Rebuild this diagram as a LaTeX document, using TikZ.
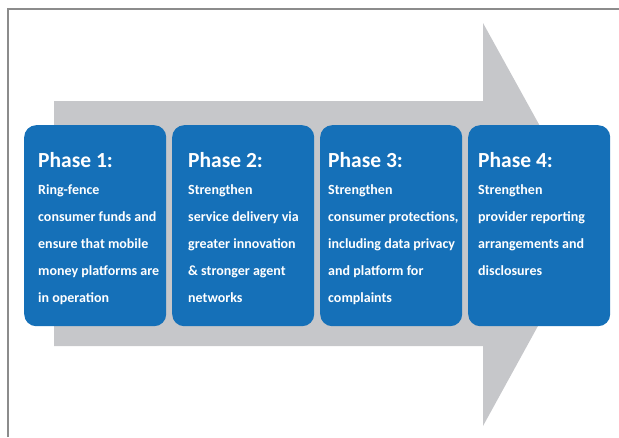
\documentclass[tikz,border=0pt]{standalone}
\usepackage{fontspec}
\setmainfont{Carlito}
\usepackage{xcolor}
\definecolor{phaseblue}{RGB}{21,112,184}
\definecolor{arrowgray}{RGB}{198,199,202}
\definecolor{framegray}{RGB}{140,140,140}

\begin{document}
\begin{tikzpicture}[x=1pt,y=-1pt,
    phase/.style={fill=phaseblue, rounded corners=12pt, minimum width=142pt, minimum height=201pt, anchor=north west, inner sep=0pt},
    phasetitle/.style={text=white, anchor=base west, inner sep=0pt, font=\bfseries\fontsize{21.5}{24}\selectfont},
    phasebody/.style={text=white, anchor=north west, inner sep=0pt, align=left, font=\bfseries\fontsize{14}{27}\selectfont}]
      \useasboundingbox (0,0) rectangle (619,437);
      % frame and arrow
      \draw[framegray, line width=1.2pt] (8,437) -- (8,9) -- (619,9);
      \fill[arrowgray] (54,101) -- (483,101) -- (483,23) -- (594,224) -- (483,426) -- (483,346) -- (54,346) -- cycle;
      % phases
      \node[phase] (P1) at (24,125) {};
      \node[phase] (P2) at (172,125) {};
      \node[phase] (P3) at (320,125) {};
      \node[phase] (P4) at (468,125) {};
      \node[phasetitle] (T1) at (38,167) {Phase 1:};
      \node[phasetitle] (T2) at (188,167) {Phase 2:};
      \node[phasetitle] (T3) at (328,167) {Phase 3:};
      \node[phasetitle] (T4) at (478,167) {Phase 4:};
      \node[phasebody] (B1) at (38,184) {Ring-fence\\consumer funds and\\ensure that mobile\\money platforms are\\in operation};
      \node[phasebody] (B2) at (188,184) {Strengthen\\service delivery via\\greater innovation\\\& stronger agent\\networks};
      \node[phasebody] (B3) at (328,184) {Strengthen\\consumer protections,\\including data privacy\\and platform for\\complaints};
      \node[phasebody] (B4) at (478,184) {Strengthen\\provider reporting\\arrangements and\\disclosures};
    \end{tikzpicture}
\end{document}
